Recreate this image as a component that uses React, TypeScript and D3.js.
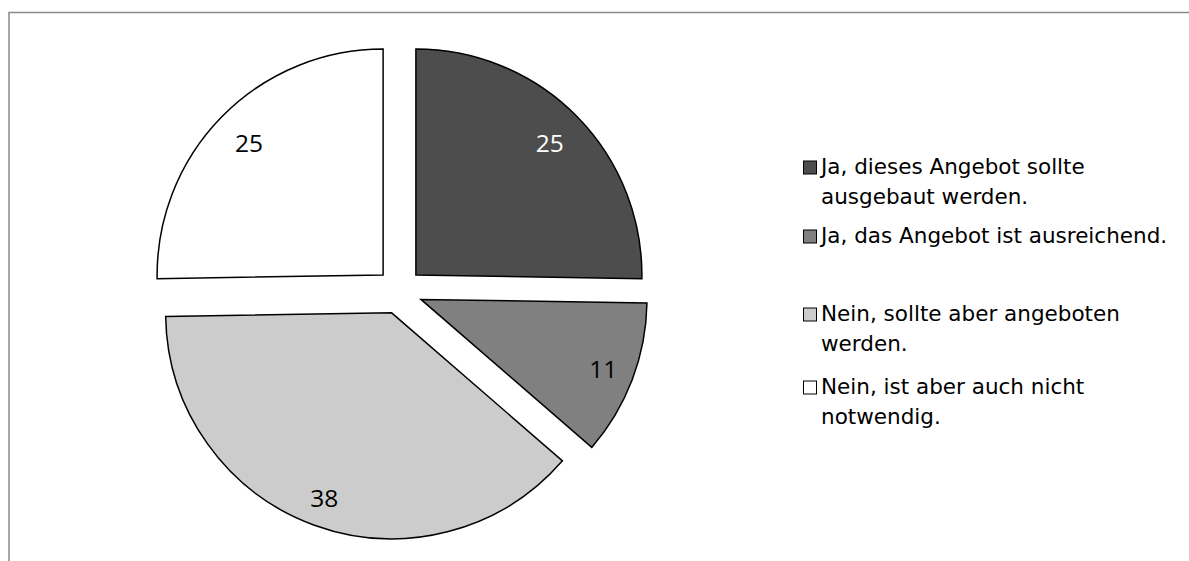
import React from "react";
import * as d3 from "d3";

// ---- data ----
const categories = [
  "Ja, dieses Angebot sollte ausgebaut werden.",
  "Ja, das Angebot ist ausreichend.",
  "Nein, sollte aber angeboten werden.",
  "Nein, ist aber auch nicht notwendig.",
];
const legendLines = [
  ["Ja, dieses Angebot sollte", "ausgebaut werden."],
  ["Ja, das Angebot ist ausreichend."],
  ["Nein, sollte aber angeboten", "werden."],
  ["Nein, ist aber auch nicht", "notwendig."],
];
const values = [25, 11, 38, 25];
const colors = ["#4d4d4d", "#808080", "#cccccc", "#ffffff"];
const labelColors = ["#ffffff", "#000000", "#000000", "#000000"];

// ---- layout ----
const W = 1189;
const H = 561;
const CX = 399.5;
const CY = 291.2;
const R = 226;
const EXPLODE = 23;
const LABEL_RADII = [188, 195, 197, 188];
const legendX = 803;
const legendBaselines = [174, 243, 321, 394];
const legendLineGap = 29.5;
const legendFont = 21.5;
const SQ = 13;

export default function App() {
  const pie = d3
    .pie<number>()
    .sort(null)
    .value((d) => d)
    .startAngle(0)
    .endAngle(2 * Math.PI);
  const arcs = pie(values);
  const arcGen = d3.arc<d3.PieArcDatum<number>>().innerRadius(0).outerRadius(R);

  return (
    <svg
      width={W}
      height={H}
      style={{ position: "absolute", left: 0, top: 0, background: "#fff" }}
    >
      <rect x={9} y={12.5} width={W + 20} height={H + 20} fill="#fff" stroke="#8a8a8a" strokeWidth={1.5} />
      <g transform={`translate(${CX},${CY})`}>
        {arcs.map((a, i) => {
          const mid = (a.startAngle + a.endAngle) / 2;
          const dx = Math.sin(mid) * EXPLODE;
          const dy = -Math.cos(mid) * EXPLODE;
          const lx = Math.sin(mid) * LABEL_RADII[i];
          const ly = -Math.cos(mid) * LABEL_RADII[i];
          return (
            <g key={i} transform={`translate(${dx},${dy})`}>
              <path d={arcGen(a) || ""} fill={colors[i]} stroke="#000" strokeWidth={1.5} strokeLinejoin="miter" />
              <text
                x={lx}
                y={ly}
                dy="0.36em"
                textAnchor="middle"
                fill={labelColors[i]}
                style={{ fontFamily: "'Open Sans', sans-serif", fontSize: 24.5 }}
              >
                {values[i]}
              </text>
            </g>
          );
        })}
      </g>
      <g>
        {categories.map((c, i) => (
          <g key={c}>
            <rect
              x={legendX + 0.5}
              y={legendBaselines[i] - SQ}
              width={SQ}
              height={SQ}
              fill={colors[i]}
              stroke="#000"
              strokeWidth={1}
            />
            <text
              x={legendX + 18}
              y={legendBaselines[i]}
              style={{ fontFamily: "'DejaVu Sans', sans-serif", fontSize: legendFont }}
              fill="#000"
            >
              {legendLines[i].map((ln, j) => (
                <tspan key={j} x={legendX + 18} y={legendBaselines[i] + j * legendLineGap}>
                  {ln}
                </tspan>
              ))}
            </text>
          </g>
        ))}
      </g>
    </svg>
  );
}
